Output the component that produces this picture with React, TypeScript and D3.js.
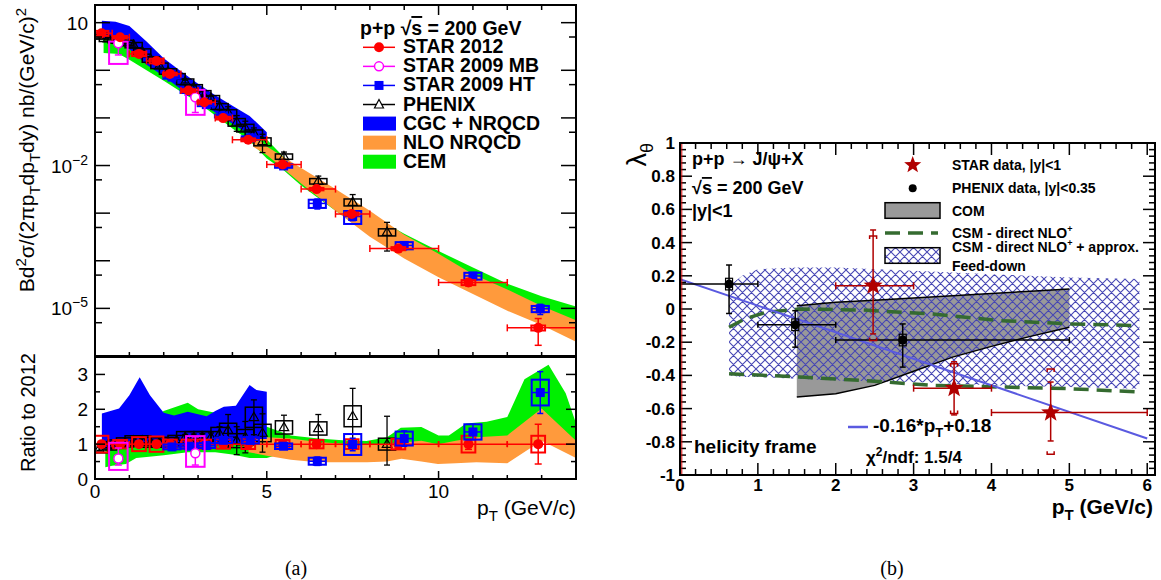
import React from 'react';
import * as d3 from 'd3';

// ================= Panel (a) : cross section =================
// STAR 2012
const star12Pt = [0.19, 0.73, 1.28, 1.79, 2.18, 2.72, 3.18, 3.73, 4.46, 5.46, 6.45, 7.47, 8.83, 10.87, 12.9];
const star12XLo = [0, 0.5, 1, 1.5, 2, 2.5, 3, 3.5, 4, 5, 6, 7, 8, 10, 12];
const star12XHi = [0.5, 1, 1.5, 2, 2.5, 3, 3.5, 4, 5, 6, 7, 8, 10, 12, 14];
const star12Val = [6.0, 4.94, 2.21, 1.57, 0.84, 0.376, 0.214, 0.099, 0.0347, 0.0105, 0.0032, 9.6e-4, 1.8e-4, 3.5e-5, 3.9e-6];
const star12Err = [0.05, 0.05, 0.05, 0.05, 0.05, 0.05, 0.05, 0.05, 0.06, 0.08, 0.08, 0.1, 0.12, 0.15, 0.57];
const star12Sys = [0.24, 0.12, 0.2, 0.22, 0.13, 0.13, 0.13, 0.13, 0.14, 0.12, 0.12, 0.14, 0.15, 0.24, 0.24];

// STAR 2009 MB
const mbPt = [0.68, 2.92];
const mbVal = [3.7, 0.272];
const mbErrLo = [2.1, 0.13];
const mbErrHi = [3.8, 0.33];
const mbBoxLo = [1.36, 0.116];
const mbBoxHi = [4.0, 0.388];
const mbRatio = [0.59, 0.74];
const mbRErrLo = [0.4, 0.4];
const mbRErrHi = [0.89, 1.21];
const mbRBoxLo = [0.26, 0.35];
const mbRBoxHi = [1.04, 1.23];

// STAR 2009 HT
const htPt = [2.24, 2.74, 3.24, 3.74, 4.52, 5.49, 6.47, 7.5, 9.0, 11.0, 12.96];
const htVal = [0.72, 0.36, 0.19, 0.11, 0.038, 0.0098, 0.0016, 8.5e-4, 2.1e-4, 4.8e-5, 9.8e-6];
const htRatio = [0.92, 0.94, 0.96, 1.11, 1.11, 0.94, 0.51, 0.99, 1.16, 1.35, 2.48];
const htErr = [0.05, 0.05, 0.06, 0.07, 0.08, 0.07, 0.12, 0.18, 0.22, 0.22, 0.6];
const htSys = [0.07, 0.07, 0.07, 0.08, 0.09, 0.08, 0.1, 0.3, 0.2, 0.22, 0.37];

// PHENIX
const phxPt = [0.125, 0.375, 0.625, 0.875, 1.125, 1.375, 1.625, 1.875, 2.125, 2.375, 2.625, 2.875, 3.125, 3.375, 3.625, 3.875, 4.125, 4.375, 4.625, 4.875, 5.5, 6.5, 7.5, 8.5];
const phxVal = [5.3, 4.6, 4.3, 3.8, 3.4, 2.5, 1.7, 1.25, 0.95, 0.75, 0.58, 0.44, 0.33, 0.26, 0.175, 0.13, 0.082, 0.062, 0.048, 0.032, 0.0155, 0.0047, 0.0017, 0.0004];
const phxRatio = [0.87, 0.95, 1.0, 1.05, 1.1, 1.1, 1.05, 1.05, 1.05, 1.1, 1.2, 1.2, 1.2, 1.2, 1.3, 1.4, 1.1, 1.2, 1.77, 1.32, 1.48, 1.45, 1.8, 1.0];
const phxErr = [0.05, 0.05, 0.05, 0.05, 0.06, 0.06, 0.06, 0.07, 0.07, 0.08, 0.08, 0.09, 0.1, 0.12, 0.2, 0.45, 0.4, 0.45, 0.5, 0.55, 0.35, 0.4, 0.8, 0.8];
const phxSys = [0.12, 0.12, 0.12, 0.13, 0.14, 0.14, 0.14, 0.14, 0.14, 0.15, 0.16, 0.16, 0.16, 0.16, 0.18, 0.2, 0.2, 0.22, 0.29, 0.25, 0.19, 0.19, 0.3, 0.17];

// Model bands (cross section)
const cgcPt = [0.2, 0.6, 1.0, 1.5, 2.0, 2.5, 3.0, 3.5, 4.0, 4.5, 5.0];
const cgcHi = [11, 10.5, 8.5, 4.0, 1.8, 0.95, 0.52, 0.3, 0.18, 0.11, 0.05];
const cgcLo = [4.8, 4.2, 2.8, 1.3, 0.75, 0.4, 0.23, 0.13, 0.075, 0.045, 0.033];

const nloPt = [4.6, 5, 6, 7, 8, 9, 10, 11, 12, 13, 14];
const nloHi = [0.045, 0.025, 0.0089, 0.0032, 0.00112, 3.5e-4, 1.4e-4, 5.2e-5, 2.5e-5, 1.12e-5, 5.6e-6];
const nloLo = [0.025, 0.0166, 0.0042, 0.00112, 3.2e-4, 1.12e-4, 4.5e-5, 2.0e-5, 8.9e-6, 4.5e-6, 2.0e-6];

const cemPt = [0.25, 0.7, 1.0, 1.5, 2.0, 2.5, 3.0, 3.5, 4.0, 4.5, 5.0, 5.5, 6, 7, 8, 9, 10, 11, 12, 13, 14];
const cemHi = [5.5, 5.0, 4.0, 2.4, 1.4, 0.8, 0.45, 0.25, 0.13, 0.07, 0.035, 0.015, 0.0075, 0.0026, 9.5e-4, 3.7e-4, 1.6e-4, 7.2e-5, 3.3e-5, 1.8e-5, 1.1e-5];
const cemLo = [2.3, 2.2, 1.66, 1.0, 0.6, 0.355, 0.21, 0.112, 0.06, 0.033, 0.0141, 0.0079, 0.0038, 0.00112, 3.5e-4, 1.26e-4, 5.0e-5, 2.4e-5, 1.12e-5, 6.3e-6, 4.0e-6];

// Model bands (ratio)
const rCgcPt = [0.2, 0.45, 0.7, 1.0, 1.3, 1.6, 2.0, 2.3, 2.7, 3.0, 3.25, 3.5, 3.75, 4.1, 4.3, 4.5, 4.7, 5.0];
const rCgcHi = [1.88, 1.95, 2.02, 2.4, 2.92, 2.4, 1.9, 1.82, 1.93, 1.86, 1.8, 1.95, 2.07, 2.1, 2.4, 2.7, 2.55, 2.5];
const rCgcLo = [0.85, 0.88, 0.9, 0.95, 0.95, 0.95, 0.9, 0.9, 0.9, 0.9, 0.92, 0.95, 1.0, 1.0, 1.05, 1.1, 1.15, 1.15];

const rCemPt = [0.3, 0.5, 0.9, 1.2, 1.5, 2.0, 2.7, 3.0, 3.5, 4.0, 4.5, 5.0, 5.7, 6.5, 7.2, 7.9, 8.5, 8.9, 9.5, 10.0, 10.3, 10.8, 11.4, 12.0, 12.5, 13.2, 13.7, 14.0];
const rCemHi = [1.3, 1.3, 1.4, 1.45, 1.6, 1.95, 2.19, 2.0, 1.9, 1.85, 1.7, 1.5, 1.25, 1.16, 1.11, 1.09, 1.2, 1.47, 1.49, 1.25, 1.25, 1.59, 1.64, 1.78, 2.86, 3.28, 2.46, 1.6];
const rCemLo = [0.34, 0.38, 0.43, 0.6, 0.63, 0.68, 0.77, 0.77, 0.77, 0.7, 0.6, 0.6, 0.8, 0.8, 0.8, 0.8, 0.8, 0.8, 0.8, 0.8, 0.8, 0.8, 0.8, 0.8, 1.2, 1.3, 1.0, 0.8];

const rNloPt = [4.47, 5.0, 5.7, 6.47, 7.25, 7.92, 8.5, 8.92, 9.5, 9.98, 10.5, 11.1, 12.0, 13.0, 14.0];
const rNloHi = [1.2, 1.2, 1.16, 1.06, 1.01, 1.0, 1.0, 1.05, 1.1, 1.0, 1.1, 1.2, 1.25, 2.02, 1.1];
const rNloLo = [0.77, 0.67, 0.55, 0.48, 0.48, 0.48, 0.5, 0.58, 0.5, 0.43, 0.45, 0.48, 0.45, 1.1, 0.6];

// ================= Panel (b) : polarization =================
const phxBX = [0.63, 1.48, 2.86];
const phxBY = [0.15, -0.095, -0.187];
const phxBXLo = [0, 1, 2];
const phxBXHi = [1, 2, 5];
const phxBYLo = [-0.027, -0.23, -0.35];
const phxBYHi = [0.265, -0.01, -0.09];

const starBX = [2.48, 3.52, 4.76];
const starBY = [0.14, -0.477, -0.624];
const starBXLo = [2, 3, 4];
const starBXHi = [3, 4, 6];
const starBStatLo = [-0.15, -0.638, -0.795];
const starBStatHi = [0.476, -0.318, -0.44];
const starBSysLo = [-0.19, -0.63, -0.875];
const starBSysHi = [0.44, -0.33, -0.362];

const comX = [1.5, 2, 2.5, 3, 3.5, 4, 4.5, 5];
const comHi = [0.02, 0.04, 0.053, 0.066, 0.08, 0.093, 0.107, 0.12];
const comLo = [-0.53, -0.51, -0.46, -0.375, -0.29, -0.225, -0.165, -0.11];

const fdX = [0.63, 0.8, 1.0, 1.5, 2, 3, 4, 5, 5.9];
const fdHi = [0.14, 0.2, 0.24, 0.25, 0.25, 0.23, 0.21, 0.19, 0.18];
const fdLo = [-0.4, -0.41, -0.41, -0.42, -0.43, -0.44, -0.46, -0.47, -0.48];

const csmX = [0.63, 0.83, 1.1, 1.54, 2.34, 3.23, 4.12, 5.0, 5.89];
const csmHi = [-0.11, -0.06, -0.02, 0.0, -0.006, -0.03, -0.07, -0.09, -0.1];
const csmLo = [-0.39, -0.395, -0.4, -0.41, -0.43, -0.46, -0.47, -0.48, -0.5];

const fitX = [0, 6];
const fitY = [0.18, -0.78];

const FONT = "'Liberation Sans', Arial, Helvetica, sans-serif";
const RED = '#ff0000';
const MAG = '#ff00ff';
const BLUE = '#0000ff';
const ORANGE = '#ff9a3c';
const GREEN = '#00f000';
const DRED = '#b00000';
const HATCH = '#4646b4';
const DGREEN = '#356b30';

function starPath(cx: number, cy: number, R: number, r: number) {
  const pts: string[] = [];
  for (let k = 0; k < 10; k++) {
    const a = -Math.PI / 2 + (k * Math.PI) / 5;
    const rad = k % 2 === 0 ? R : r;
    pts.push(`${cx + rad * Math.cos(a)},${cy + rad * Math.sin(a)}`);
  }
  return 'M' + pts.join('L') + 'Z';
}

function VBar({ x, y1, y2, c, cap = 3.5, w = 1.5 }: any) {
  return (
    <g stroke={c} strokeWidth={w}>
      <line x1={x} x2={x} y1={y1} y2={y2} />
      <line x1={x - cap} x2={x + cap} y1={y1} y2={y1} />
      <line x1={x - cap} x2={x + cap} y1={y2} y2={y2} />
    </g>
  );
}
function HBar({ y, x1, x2, c, cap = 3.5, w = 1.5 }: any) {
  return (
    <g stroke={c} strokeWidth={w}>
      <line x1={x1} x2={x2} y1={y} y2={y} />
      <line x1={x1} x2={x1} y1={y - cap} y2={y + cap} />
      <line x1={x2} x2={x2} y1={y - cap} y2={y + cap} />
    </g>
  );
}
function Box({ x1, x2, y1, y2, c, w = 2 }: any) {
  return <rect x={Math.min(x1, x2)} y={Math.min(y1, y2)} width={Math.abs(x2 - x1)} height={Math.abs(y2 - y1)} fill="none" stroke={c} strokeWidth={w} />;
}
function Tri({ x, y, s = 5 }: any) {
  return <path d={`M${x},${y - s}L${x + s * 0.95},${y + s * 0.65}L${x - s * 0.95},${y + s * 0.65}Z`} fill="none" stroke="#000" strokeWidth={1.2} />;
}

export default function App() {
  const xA = d3.scaleLinear().domain([0, 14]).range([95, 576]);
  const yT = d3.scaleLog().domain([1e-6, 23.5]).range([356, 5]);
  const yR = d3.scaleLinear().domain([0, 3.5]).range([479, 357]);
  const xB = d3.scaleLinear().domain([0, 6.1]).range([680, 1155]);
  const yB = d3.scaleLinear().domain([-1, 1]).range([475, 143]);

  const idx = (a: number[]) => a.map((_, i) => i);
  const area = (xs: number[], lo: number[], hi: number[], sx: any, sy: any) =>
    d3.area<number>().x((i) => sx(xs[i])).y0((i) => sy(lo[i])).y1((i) => sy(hi[i]))(idx(xs)) || '';
  const line = (xs: number[], ys: number[], sx: any, sy: any) =>
    d3.line<number>().x((i) => sx(xs[i])).y((i) => sy(ys[i]))(idx(xs)) || '';

  // ---------- ticks panel a ----------
  const ticksA: any[] = [];
  for (let i = 0; i <= 14; i++) {
    const x = xA(i);
    const maj = i % 5 === 0;
    ticksA.push(<line key={'tt' + i} x1={x} x2={x} y1={5} y2={5 + (maj ? 10 : 5)} />);
    ticksA.push(<line key={'tb' + i} x1={x} x2={x} y1={356} y2={356 - (maj ? 7 : 4)} />);
    ticksA.push(<line key={'rb' + i} x1={x} x2={x} y1={479} y2={479 - (maj ? 8 : 4)} />);
  }
  for (let n = -6; n <= 1; n++) {
    const y = yT(Math.pow(10, n));
    ticksA.push(<line key={'yl' + n} x1={95} x2={110} y1={y} y2={y} />);
    ticksA.push(<line key={'yr' + n} x1={576} x2={561} y1={y} y2={y} />);
    if (n <= 0) {
      const y5 = yT(5 * Math.pow(10, n));
      ticksA.push(<line key={'yl5' + n} x1={95} x2={102} y1={y5} y2={y5} />);
      ticksA.push(<line key={'yr5' + n} x1={576} x2={569} y1={y5} y2={y5} />);
    }
  }
  for (let k = 0; k <= 7; k++) {
    const v = k * 0.5;
    const y = yR(v);
    const len = k % 2 === 0 ? 10 : 5;
    ticksA.push(<line key={'ryl' + k} x1={95} x2={95 + len} y1={y} y2={y} />);
    ticksA.push(<line key={'ryr' + k} x1={576} x2={576 - len} y1={y} y2={y} />);
  }

  // ---------- ticks panel b ----------
  const ticksB: any[] = [];
  for (let i = 0; i <= 30; i++) {
    const x = xB(i * 0.2);
    const maj = i % 5 === 0;
    ticksB.push(<line key={'bx' + i} x1={x} x2={x} y1={475} y2={475 - (maj ? 12 : 6)} />);
    ticksB.push(<line key={'tx' + i} x1={x} x2={x} y1={143} y2={143 + (maj ? 12 : 6)} />);
  }
  for (let i = 0; i <= 50; i++) {
    const y = yB(-1 + i * 0.04);
    const maj = i % 5 === 0;
    ticksB.push(<line key={'ly' + i} x1={680} x2={680 + (maj ? 12 : 6)} y1={y} y2={y} />);
    ticksB.push(<line key={'ry' + i} x1={1155} x2={1155 - (maj ? 12 : 6)} y1={y} y2={y} />);
  }

  const yLabB = [1, 0.8, 0.6, 0.4, 0.2, 0, -0.2, -0.4, -0.6, -0.8, -1];
  const xLabB = [0, 1, 2, 3, 4, 5, 6];

  const legA = [
    { t: 'STAR 2012', k: 'red' },
    { t: 'STAR 2009 MB', k: 'mb' },
    { t: 'STAR 2009 HT', k: 'ht' },
    { t: 'PHENIX', k: 'phx' },
    { t: 'CGC + NRQCD', k: 'cgc' },
    { t: 'NLO NRQCD', k: 'nlo' },
    { t: 'CEM', k: 'cem' },
  ];

  return (
    <svg width={1161} height={580} style={{ position: 'absolute', left: 0, top: 0, background: '#fff' }} fontFamily={FONT}>
      <defs>
        <clipPath id="clipT"><rect x={95} y={5} width={481} height={351} /></clipPath>
        <clipPath id="clipR"><rect x={95} y={357} width={481} height={122} /></clipPath>
        <clipPath id="clipB"><rect x={680} y={143} width={475} height={332} /></clipPath>
        <pattern id="hatch" width={9} height={9} patternUnits="userSpaceOnUse">
          <path d="M0,0L9,9M9,0L0,9M-1,8L1,10M8,-1L10,1" stroke={HATCH} strokeWidth={1.1} />
        </pattern>
      </defs>

      {/* ================== Panel (a) top ================== */}
      <g clipPath="url(#clipT)">
        <path d={area(cemPt, cemLo, cemHi, xA, yT)} fill={GREEN} />
        <path d={area(nloPt, nloLo, nloHi, xA, yT)} fill={ORANGE} />
        <path d={area(cgcPt, cgcLo, cgcHi, xA, yT)} fill={BLUE} />

        {phxPt.map((p, i) => {
          const v = phxVal[i];
          const rs = phxSys[i] / phxRatio[i];
          const re = Math.min(phxErr[i] / phxRatio[i], 0.6);
          return (
            <g key={'pa' + i}>
              <Box x1={xA(p - 0.25)} x2={xA(p + 0.25)} y1={yT(v * (1 - rs))} y2={yT(v * (1 + rs))} c="#000" w={1.5} />
              <VBar x={xA(p)} y1={yT(v * (1 - re))} y2={yT(v * (1 + re))} c="#000" cap={3} w={1.3} />
              <Tri x={xA(p)} y={yT(v)} />
            </g>
          );
        })}

        {htPt.map((p, i) => {
          const v = htVal[i];
          const rs = htSys[i] / htRatio[i];
          const re = htErr[i] / htRatio[i];
          return (
            <g key={'ha' + i}>
              <Box x1={xA(p - 0.25)} x2={xA(p + 0.25)} y1={yT(v * (1 - rs))} y2={yT(v * (1 + rs))} c={BLUE} />
              <VBar x={xA(p)} y1={yT(v * (1 - re))} y2={yT(v * (1 + re))} c={BLUE} cap={3} />
              <line x1={xA(p - 0.25)} x2={xA(p + 0.25)} y1={yT(v)} y2={yT(v)} stroke={BLUE} strokeWidth={1.5} />
              <rect x={xA(p) - 4.5} y={yT(v) - 4.5} width={9} height={9} fill={BLUE} />
            </g>
          );
        })}

        {mbPt.map((p, i) => (
          <g key={'ma' + i}>
            <Box x1={xA(p - 0.27)} x2={xA(p + 0.27)} y1={yT(mbBoxLo[i])} y2={yT(mbBoxHi[i])} c={MAG} />
            <VBar x={xA(p)} y1={yT(mbErrLo[i])} y2={yT(mbErrHi[i])} c={MAG} cap={3.5} />
            <circle cx={xA(p)} cy={yT(mbVal[i])} r={4.5} fill="#fff" stroke={MAG} strokeWidth={1.5} />
          </g>
        ))}

        {star12Pt.map((p, i) => {
          const v = star12Val[i];
          const s = star12Sys[i] * 0.5;
          const e = star12Err[i];
          return (
            <g key={'sa' + i}>
              <Box x1={xA(p - 0.2)} x2={xA(p + 0.2)} y1={yT(v * (1 - s))} y2={yT(v * (1 + s))} c={RED} />
              <HBar y={yT(v)} x1={xA(star12XLo[i])} x2={xA(star12XHi[i])} c={RED} cap={3.5} />
              <VBar x={xA(p)} y1={yT(v * (1 - e))} y2={yT(v * (1 + e))} c={RED} cap={3.5} />
              <circle cx={xA(p)} cy={yT(v)} r={5} fill={RED} />
            </g>
          );
        })}
      </g>

      {/* ================== Panel (a) ratio ================== */}
      <g clipPath="url(#clipR)">
        <path d={area(rCemPt, rCemLo, rCemHi, xA, yR)} fill={GREEN} />
        <path d={area(rNloPt, rNloLo, rNloHi, xA, yR)} fill={ORANGE} />
        <path d={area(rCgcPt, rCgcLo, rCgcHi, xA, yR)} fill={BLUE} />

        {phxPt.map((p, i) => (
          <g key={'pr' + i}>
            <Box x1={xA(p - 0.25)} x2={xA(p + 0.25)} y1={yR(phxRatio[i] - phxSys[i])} y2={yR(phxRatio[i] + phxSys[i])} c="#000" w={1.5} />
            <VBar x={xA(p)} y1={yR(Math.max(phxRatio[i] - phxErr[i], 0.4))} y2={yR(phxRatio[i] + phxErr[i])} c="#000" cap={3} w={1.3} />
            <Tri x={xA(p)} y={yR(phxRatio[i])} />
          </g>
        ))}

        {star12Pt.map((p, i) => (
          <g key={'sr' + i}>
            <Box x1={xA(p - 0.2)} x2={xA(p + 0.2)} y1={yR(1 - star12Sys[i])} y2={yR(1 + star12Sys[i])} c={RED} />
            <HBar y={yR(1)} x1={xA(star12XLo[i])} x2={xA(star12XHi[i])} c={RED} cap={3} />
            <VBar x={xA(p)} y1={yR(1 - star12Err[i])} y2={yR(1 + star12Err[i])} c={RED} cap={3.5} />
            <circle cx={xA(p)} cy={yR(1)} r={5} fill={RED} />
          </g>
        ))}

        {htPt.map((p, i) => (
          <g key={'hr' + i}>
            <Box x1={xA(p - 0.25)} x2={xA(p + 0.25)} y1={yR(htRatio[i] - htSys[i])} y2={yR(htRatio[i] + htSys[i])} c={BLUE} />
            <VBar x={xA(p)} y1={yR(htRatio[i] - htErr[i])} y2={yR(htRatio[i] + htErr[i])} c={BLUE} cap={3} />
            <line x1={xA(p - 0.25)} x2={xA(p + 0.25)} y1={yR(htRatio[i])} y2={yR(htRatio[i])} stroke={BLUE} strokeWidth={1.5} />
            <rect x={xA(p) - 4.5} y={yR(htRatio[i]) - 4.5} width={9} height={9} fill={BLUE} />
          </g>
        ))}

        {mbPt.map((p, i) => (
          <g key={'mr' + i}>
            <Box x1={xA(p - 0.27)} x2={xA(p + 0.27)} y1={yR(mbRBoxLo[i])} y2={yR(mbRBoxHi[i])} c={MAG} />
            <VBar x={xA(p)} y1={yR(mbRErrLo[i])} y2={yR(mbRErrHi[i])} c={MAG} cap={3.5} />
            <circle cx={xA(p)} cy={yR(mbRatio[i])} r={4.5} fill="#fff" stroke={MAG} strokeWidth={1.5} />
          </g>
        ))}
      </g>

      {/* frames & ticks a */}
      <g stroke="#000" strokeWidth={1.5}>{ticksA}</g>
      <rect x={95} y={5} width={481} height={351} fill="none" stroke="#000" strokeWidth={2} />
      <rect x={95} y={357} width={481} height={122} fill="none" stroke="#000" strokeWidth={2} />

      {/* axis labels a */}
      <g fontSize={19} fill="#000">
        <text x={88} y={yT(10) + 7} textAnchor="end">10</text>
        <text x={88} y={yT(1e-2) + 7} textAnchor="end">10<tspan dy={-8} fontSize={14}>−2</tspan></text>
        <text x={88} y={yT(1e-5) + 7} textAnchor="end">10<tspan dy={-8} fontSize={14}>−5</tspan></text>
        {[0, 1, 2, 3].map((v) => (
          <text key={'rl' + v} x={88} y={yR(v) + 7} textAnchor="end">{v}</text>
        ))}
        {[0, 5, 10].map((v) => (
          <text key={'xl' + v} x={xA(v)} y={498} textAnchor="middle">{v}</text>
        ))}
      </g>
      <text x={576} y={515} textAnchor="end" fontSize={21}>p<tspan dy={6} fontSize={15}>T</tspan><tspan dy={-6}> (GeV/c)</tspan></text>
      <text transform="translate(34,8) rotate(-90)" textAnchor="end" fontSize={21}>
        Bd<tspan dy={-8} fontSize={15}>2</tspan><tspan dy={8}>σ/(2πp</tspan><tspan dy={6} fontSize={15}>T</tspan><tspan dy={-6}>dp</tspan><tspan dy={6} fontSize={15}>T</tspan><tspan dy={-6}>dy) nb/(GeV/c)</tspan><tspan dy={-8} fontSize={15}>2</tspan>
      </text>
      <text transform="translate(35,353) rotate(-90)" textAnchor="end" fontSize={20}>Ratio to 2012</text>

      {/* legend a */}
      <g fontWeight="bold" fontSize={19.5}>
        <text x={360} y={35}>p+p  √<tspan textDecoration="overline">s</tspan> = 200 GeV</text>
        {legA.map((e, i) => {
          const by = 53.3 + i * 19.07;
          const cy = by - 6;
          let sym: any = null;
          if (e.k === 'red') sym = (<g><line x1={363} x2={395} y1={cy} y2={cy} stroke={RED} strokeWidth={1.5} /><circle cx={379} cy={cy} r={5} fill={RED} /></g>);
          if (e.k === 'mb') sym = (<g><line x1={363} x2={395} y1={cy} y2={cy} stroke={MAG} strokeWidth={1.5} /><circle cx={379} cy={cy} r={4.5} fill="#fff" stroke={MAG} strokeWidth={1.5} /></g>);
          if (e.k === 'ht') sym = (<g><line x1={363} x2={395} y1={cy} y2={cy} stroke={BLUE} strokeWidth={1.5} /><rect x={374.5} y={cy - 4.5} width={9} height={9} fill={BLUE} /></g>);
          if (e.k === 'phx') sym = (<g><line x1={363} x2={395} y1={cy} y2={cy} stroke="#000" strokeWidth={1.5} /><path d={`M379,${cy - 5}L383.5,${cy + 3.5}L374.5,${cy + 3.5}Z`} fill="#fff" stroke="#000" strokeWidth={1.2} /></g>);
          if (e.k === 'cgc') sym = <rect x={363} y={cy - 7} width={33} height={14} fill={BLUE} />;
          if (e.k === 'nlo') sym = <rect x={363} y={cy - 7} width={33} height={14} fill={ORANGE} />;
          if (e.k === 'cem') sym = <rect x={363} y={cy - 7} width={33} height={14} fill={GREEN} />;
          return (
            <g key={'lg' + i}>
              {sym}
              <text x={403} y={by}>{e.t}</text>
            </g>
          );
        })}
      </g>

      <text x={296} y={575} textAnchor="middle" fontSize={20} fontFamily="'Liberation Serif', 'DejaVu Serif', serif">(a)</text>

      {/* ================== Panel (b) ================== */}
      <g clipPath="url(#clipB)">
        <path d={area(comX, comLo, comHi, xB, yB)} fill="#999999" />
        <path d={area(fdX, fdLo, fdHi, xB, yB)} fill="url(#hatch)" />
        <path d={line(comX, comHi, xB, yB)} fill="none" stroke="#000" strokeWidth={1.5} />
        <path d={line(comX, comLo, xB, yB)} fill="none" stroke="#000" strokeWidth={1.5} />
        <path d={line(csmX, csmHi, xB, yB)} fill="none" stroke={DGREEN} strokeWidth={3.5} strokeDasharray="15,8" />
        <path d={line(csmX, csmLo, xB, yB)} fill="none" stroke={DGREEN} strokeWidth={3.5} strokeDasharray="15,8" />
        <path d={line(fitX, fitY, xB, yB)} fill="none" stroke="#5a5ae0" strokeWidth={2} />

        {phxBX.map((p, i) => (
          <g key={'pb' + i}>
            <line x1={xB(phxBXLo[i])} x2={xB(phxBXHi[i])} y1={yB(phxBY[i])} y2={yB(phxBY[i])} stroke="#000" strokeWidth={1.5} />
            <line x1={xB(phxBXLo[i])} x2={xB(phxBXLo[i])} y1={yB(phxBY[i]) - 3} y2={yB(phxBY[i]) + 3} stroke="#000" strokeWidth={1.5} />
            <line x1={xB(phxBXHi[i])} x2={xB(phxBXHi[i])} y1={yB(phxBY[i]) - 3} y2={yB(phxBY[i]) + 3} stroke="#000" strokeWidth={1.5} />
            <VBar x={xB(p)} y1={yB(phxBYLo[i])} y2={yB(phxBYHi[i])} c="#000" cap={3} />
            <rect x={xB(p) - 3.5} y={yB(phxBY[i] + 0.035)} width={7} height={yB(phxBY[i] - 0.035) - yB(phxBY[i] + 0.035)} fill="none" stroke="#000" strokeWidth={1.2} />
            <circle cx={xB(p)} cy={yB(phxBY[i])} r={4.5} fill="#000" />
          </g>
        ))}

        {starBX.map((p, i) => {
          const x = xB(p);
          const yt = yB(starBSysHi[i]);
          const yb = yB(starBSysLo[i]);
          return (
            <g key={'sb' + i}>
              <line x1={xB(starBXLo[i])} x2={xB(starBXHi[i])} y1={yB(starBY[i])} y2={yB(starBY[i])} stroke={DRED} strokeWidth={1.5} />
              <line x1={xB(starBXLo[i])} x2={xB(starBXLo[i])} y1={yB(starBY[i]) - 3.5} y2={yB(starBY[i]) + 3.5} stroke={DRED} strokeWidth={1.5} />
              <line x1={xB(starBXHi[i])} x2={xB(starBXHi[i])} y1={yB(starBY[i]) - 3.5} y2={yB(starBY[i]) + 3.5} stroke={DRED} strokeWidth={1.5} />
              <VBar x={x} y1={yB(starBStatLo[i])} y2={yB(starBStatHi[i])} c={DRED} cap={3} />
              <path d={`M${x - 3.5},${yt + 3}V${yt}H${x + 3.5}V${yt + 3}`} fill="none" stroke={DRED} strokeWidth={1.5} />
              <path d={`M${x - 3.5},${yb - 3}V${yb}H${x + 3.5}V${yb - 3}`} fill="none" stroke={DRED} strokeWidth={1.5} />
              <path d={starPath(x, yB(starBY[i]), 10, 4.2)} fill={DRED} />
            </g>
          );
        })}
      </g>

      <g stroke="#000" strokeWidth={1.5}>{ticksB}</g>
      <rect x={680} y={143} width={475} height={332} fill="none" stroke="#000" strokeWidth={2} />
      <line x1={681.8} x2={681.8} y1={144} y2={474} stroke="#cc0000" strokeWidth={1} />

      <g fontWeight="bold" fontSize={17}>
        {yLabB.map((v) => (
          <text key={'yb' + v} x={675} y={yB(v) + 6} textAnchor="end">{String(v)}</text>
        ))}
        {xLabB.map((v) => (
          <text key={'xb' + v} x={xB(v)} y={491} textAnchor="middle">{v}</text>
        ))}
      </g>
      <text x={1153} y={514} textAnchor="end" fontWeight="bold" fontSize={21}>p<tspan dy={6} fontSize={15}>T</tspan><tspan dy={-6}> (GeV/c)</tspan></text>
      <text transform="translate(646,143) rotate(-90)" textAnchor="end" fontSize={27}>λ<tspan dy={7} fontSize={18}>θ</tspan></text>

      {/* texts b */}
      <g fontWeight="bold" fontSize={18}>
        <text x={692} y={165}>p+p  → J/ψ+X</text>
        <text x={692} y={194}>√<tspan textDecoration="overline">s</tspan> = 200 GeV</text>
        <text x={692} y={217}>|y|&lt;1</text>
        <text x={694} y={453} fontSize={19}>helicity frame</text>
      </g>
      <line x1={848} x2={868} y1={427} y2={427} stroke="#5a5ae0" strokeWidth={2.5} />
      <text x={873} y={432} fontWeight="bold" fontSize={19}>-0.16*p<tspan dy={5} fontSize={13}>T</tspan><tspan dy={-5}>+0.18</tspan></text>
      <text x={866} y={463} fontWeight="bold" fontSize={17}>χ<tspan dy={-7} fontSize={12}>2</tspan><tspan dy={7}>/ndf: 1.5/4</tspan></text>

      {/* legend b */}
      <g fontWeight="bold" fontSize={14}>
        <path d={starPath(912.7, 165, 9, 3.8)} fill={DRED} />
        <text x={952} y={170}>STAR data, |y|&lt;1</text>
        <circle cx={912.7} cy={188.3} r={4} fill="#000" />
        <text x={952} y={193}>PHENIX data, |y|&lt;0.35</text>
        <rect x={885} y={202.7} width={55} height={15.6} fill="#999999" stroke="#000" strokeWidth={1.5} />
        <text x={952} y={216}>COM</text>
        <line x1={885} x2={938} y1={233} y2={233} stroke={DGREEN} strokeWidth={3.5} strokeDasharray="15,8" />
        <text x={952} y={237.5}>CSM - direct NLO<tspan dy={-6} fontSize={9}>+</tspan></text>
        <text x={952} y={251.5}>CSM - direct NLO<tspan dy={-6} fontSize={9}>+</tspan><tspan dy={6}> + approx.</tspan></text>
        <rect x={885} y={247.7} width={55} height={15.6} fill="url(#hatch)" stroke="#000" strokeWidth={1.5} />
        <text x={952} y={270.5}>Feed-down</text>
      </g>

      <text x={892} y={575} textAnchor="middle" fontSize={20} fontFamily="'Liberation Serif', 'DejaVu Serif', serif">(b)</text>
    </svg>
  );
}
